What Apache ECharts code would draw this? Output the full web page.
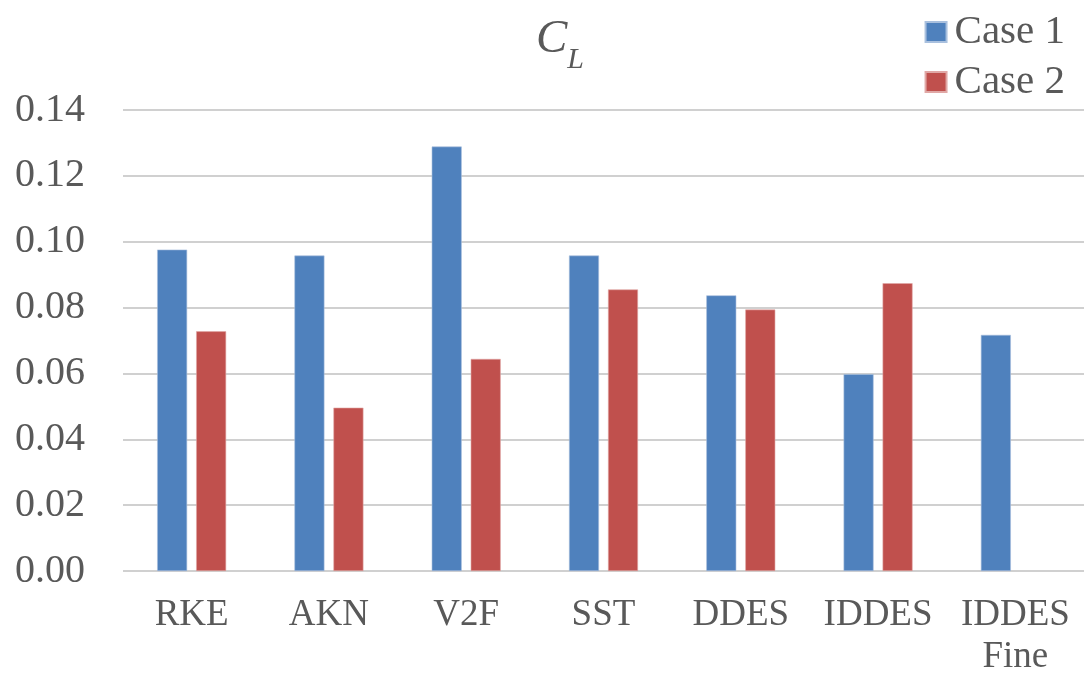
<!DOCTYPE html>
<html><head><meta charset="utf-8">
<script src="https://cdn.jsdelivr.net/npm/echarts@6/dist/echarts.min.js"></script>
<style>html,body{margin:0;padding:0;background:#fff}#c{width:1086px;height:673px}</style>
</head><body><div id="c"></div>
<script>
const categories = ['RKE', 'AKN', 'V2F', 'SST', 'DDES', 'IDDES', 'IDDES\nFine'];
const case1 = [0.0976, 0.0958, 0.1289, 0.0958, 0.0837, 0.0598, 0.0717];
const case2 = [0.0728, 0.0496, 0.0644, 0.0855, 0.0794, 0.0874, null];
const yTicks = [0, 0.02, 0.04, 0.06, 0.08, 0.10, 0.12, 0.14];

const font = 'Liberation Serif';
const textColor = '#595959';
const chart = echarts.init(document.getElementById('c'), null, {renderer: 'canvas'});
chart.setOption({
  animation: false,
  backgroundColor: '#fff',
  title: {
    text: '{c|C}{l|L}',
    left: 531, top: 6,
    textStyle: {
      fontWeight: 'normal',
      rich: {
        c: {fontFamily: font, fontStyle: 'italic', fontWeight: 'normal', fontSize: 47, color: textColor, verticalAlign: 'bottom', lineHeight: 52},
        l: {fontFamily: font, fontStyle: 'italic', fontWeight: 'normal', fontSize: 30, color: textColor, verticalAlign: 'bottom', padding: [0,0,-12,0], lineHeight: 52}
      }
    }
  },
  legend: {
    orient: 'vertical', right: 16, top: 4,
    itemWidth: 21, itemHeight: 20, itemGap: 4,
    icon: 'rect',
    textStyle: {fontFamily: font, fontSize: 41, color: textColor, padding: [0,0,0,3], lineHeight: 46},
    data: ['Case 1', 'Case 2']
  },
  grid: {left: 123, right: 2, top: 110, bottom: 102, containLabel: false, outerBoundsMode: 'none'},
  xAxis: {
    type: 'category', data: categories,
    axisLine: {show: false}, axisTick: {show: false},
    axisLabel: {fontFamily: font, fontSize: 37, color: textColor, margin: 23, lineHeight: 42, interval: 0}
  },
  yAxis: {
    type: 'value', min: 0, max: 0.14, interval: 0.02,
    axisLine: {show: false}, axisTick: {show: false},
    axisLabel: {fontFamily: font, fontSize: 40, color: textColor, margin: 38,
      formatter: v => v.toFixed(2)},
    splitLine: {lineStyle: {color: '#d0d0d0', width: 2}}
  },
  series: [
    {name: 'Case 1', type: 'bar', data: case1, barWidth: 30, barGap: '30%',
     itemStyle: {color: '#4F81BD', borderColor: '#a9c0de', borderWidth: 0.6}},
    {name: 'Case 2', type: 'bar', data: case2, barWidth: 30,
     itemStyle: {color: '#C0504D', borderColor: '#e0a8a6', borderWidth: 0.6}}
  ]
});
</script></body></html>
